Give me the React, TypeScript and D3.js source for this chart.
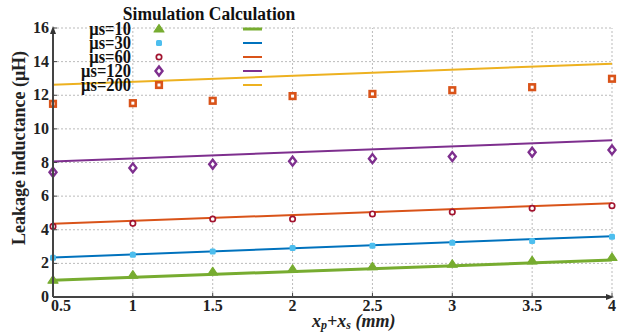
import React from "react";
import * as d3 from "d3";

const xs = [0.5, 1, 1.5, 2, 2.5, 3, 3.5, 4];
const seriesNames = ["μs=10", "μs=30", "μs=60", "μs=120", "μs=200"];
const sim10 = [1.0, 1.3, 1.5, 1.65, 1.8, 1.95, 2.15, 2.35];
const sim30 = [2.34, 2.52, 2.7, 2.92, 3.05, 3.23, 3.33, 3.59];
const sim60 = [4.2, 4.38, 4.64, 4.64, 4.94, 5.06, 5.28, 5.43];
const sim120 = [7.42, 7.68, 7.9, 8.08, 8.23, 8.35, 8.61, 8.75];
const sim200 = [11.49, 11.53, 11.67, 11.95, 12.08, 12.3, 12.48, 12.98];
const calcX = [0.5, 4];
const calc10 = [1.0, 2.2];
const calc30 = [2.35, 3.62];
const calc60 = [4.35, 5.58];
const calc120 = [8.06, 9.32];
const calc200 = [12.62, 13.88];
const xTicks = [0.5, 1, 1.5, 2, 2.5, 3, 3.5, 4];
const yTicks = [0, 2, 4, 6, 8, 10, 12, 14, 16];

const lineColors = ["#77AC30", "#0072BD", "#D95319", "#7E2F8E", "#EDB120"];
const markerColors = ["#77AC30", "#4DBEEE", "#A2142F", "#7E2F8E", "#D95319"];
const lineWidths = [3, 2, 2, 2, 2];
const markerTypes = ["tri", "sq", "circ", "dia", "box"];

const sims = [sim10, sim30, sim60, sim120, sim200];
const calcs = [calc10, calc30, calc60, calc120, calc200];

function Marker({ type, x, y, color }: { type: string; x: number; y: number; color: string }) {
  if (type === "tri") {
    return <path d={`M${x},${y - 4.5} L${x + 5},${y + 3} L${x - 5},${y + 3} Z`} fill={color} stroke={color} strokeWidth={1.2} strokeLinejoin="round" />;
  }
  if (type === "sq") {
    return <rect x={x - 3} y={y - 3} width={6} height={6} fill={color} rx={1.5} />;
  }
  if (type === "circ") {
    return <circle cx={x} cy={y} r={2.7} fill="white" stroke={color} strokeWidth={1.7} />;
  }
  if (type === "dia") {
    return <path d={`M${x},${y - 4.5} L${x + 3.5},${y} L${x},${y + 4.5} L${x - 3.5},${y} Z`} fill="white" stroke={color} strokeWidth={2.4} />;
  }
  return <rect x={x - 2.8} y={y - 2.8} width={5.6} height={5.6} fill="white" stroke={color} strokeWidth={2.6} />;
}

export default function App() {
  const W = 623, H = 335;
  const x = d3.scaleLinear().domain([0.5, 4]).range([53, 612]);
  const y = d3.scaleLinear().domain([0, 16]).range([297, 28]);
  const line = d3.line<number>().x((_, i) => x(calcX[i])).y((d) => y(d));
  const serif = "'Liberation Serif', 'Times New Roman', serif";
  const legendRows = [29, 43, 57, 71, 85];

  return (
    <svg width={W} height={H} style={{ position: "absolute", left: 0, top: 0, background: "white" }} fontFamily={serif}>
      <rect width={W} height={H} fill="white" />
      {yTicks.filter((t) => t > 0).map((t) => (
        <line key={"gy" + t} x1={x(0.5)} x2={x(4)} y1={y(t)} y2={y(t)} stroke="#bbb" strokeWidth={1} strokeDasharray="2,2" />
      ))}
      {xTicks.filter((t) => t > 0.5).map((t) => (
        <line key={"gx" + t} x1={x(t)} x2={x(t)} y1={y(0)} y2={y(16)} stroke="#bbb" strokeWidth={1} strokeDasharray="2,2" />
      ))}
      {calcs.map((c, i) => (
        <path key={"l" + i} d={line(c) || ""} fill="none" stroke={lineColors[i]} strokeWidth={lineWidths[i]} />
      ))}
      {sims.map((s, i) =>
        s.map((v, j) => <Marker key={"m" + i + "-" + j} type={markerTypes[i]} x={x(xs[j])} y={y(v)} color={markerColors[i]} />)
      )}
      <line x1={x(0.5)} x2={x(0.5)} y1={y(0)} y2={y(16) + 4} stroke="#444" strokeWidth={2} />
      <path d={`M${x(0.5)},${y(16) - 2} L${x(0.5) + 3},${y(16) + 6} L${x(0.5) - 3},${y(16) + 6} Z`} fill="#333" />
      <line x1={x(0.5)} x2={x(4) - 4} y1={y(0)} y2={y(0)} stroke="#444" strokeWidth={2} />
      <path d={`M${x(4) + 2},${y(0)} L${x(4) - 6},${y(0) - 3} L${x(4) - 6},${y(0) + 3} Z`} fill="#333" />
      {yTicks.map((t) => (
        <line key={"ty" + t} x1={x(0.5)} x2={x(0.5) + 4} y1={y(t)} y2={y(t)} stroke="#444" strokeWidth={1} />
      ))}
      {xTicks.map((t) => (
        <line key={"tx" + t} x1={x(t)} x2={x(t)} y1={y(0)} y2={y(0) - 4} stroke="#444" strokeWidth={1} />
      ))}
      {yTicks.map((t) => (
        <text key={"yl" + t} x={49} y={y(t) + 5} textAnchor="end" fontSize={16} fontWeight="bold" fill="#222">{t}</text>
      ))}
      {xTicks.map((t, i) => (
        <text key={"xl" + t} x={i === 0 ? x(t) + 8 : x(t)} y={y(0) + 14} textAnchor="middle" fontSize={16} fontWeight="bold" fill="#222">{t}</text>
      ))}
      <text transform={`translate(25,148) rotate(-90)`} textAnchor="middle" fontSize={18} fontWeight="bold" fill="#222">Leakage inductance (μH)</text>
      <text x={312} y={327} fontSize={18} fontWeight="bold" fontStyle="italic" fill="#222">
        x<tspan fontSize={12} dy={2}>p</tspan><tspan dy={-2}>+x</tspan><tspan fontSize={12} dy={2}>s</tspan><tspan dy={-2}> (mm)</tspan>
      </text>
      <text transform="translate(209,20) scale(1,1.1)" textAnchor="middle" fontSize={17.5} fontWeight="bold" fill="#111">Simulation Calculation</text>
      {seriesNames.map((n, i) => (
        <g key={"lg" + i}>
          <text transform={`translate(131,${legendRows[i] + 5.5}) scale(1,1.1)`} textAnchor="end" fontSize={16.5} fontWeight="bold" fill="#111">{n}</text>
          <Marker type={markerTypes[i]} x={159} y={legendRows[i]} color={markerColors[i]} />
          <line x1={243} x2={262} y1={legendRows[i]} y2={legendRows[i]} stroke={lineColors[i]} strokeWidth={lineWidths[i]} />
        </g>
      ))}
    </svg>
  );
}
